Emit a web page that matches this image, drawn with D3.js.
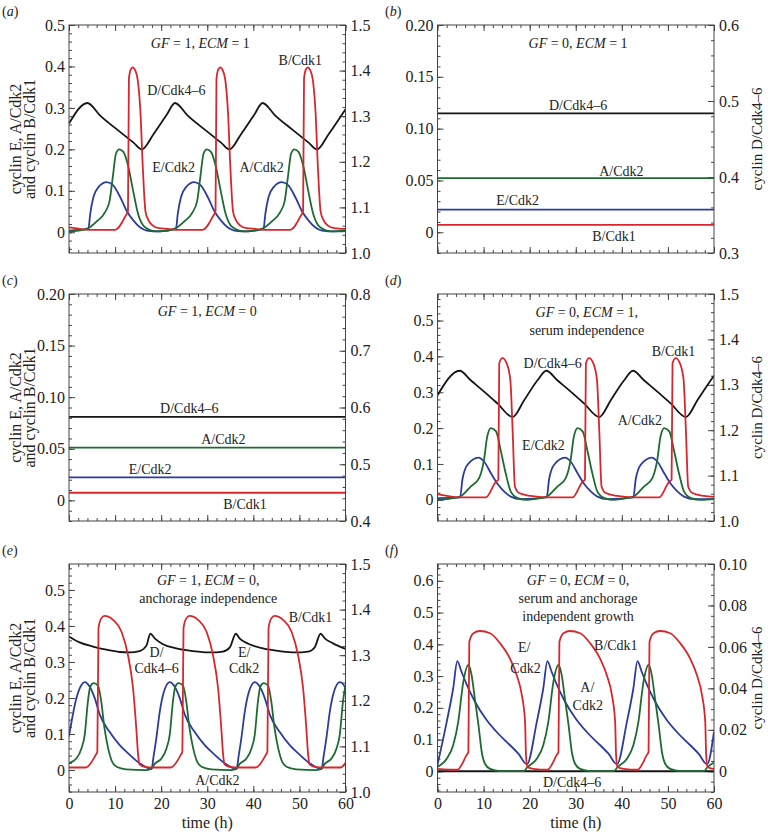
<!DOCTYPE html>
<html>
<head>
<meta charset="utf-8">
<title>Cyclin oscillations</title>
<script src="https://d3js.org/d3.v7.min.js"></script>
<style>
  body { margin: 0; background: #fff; }
  svg text { font-family: "Liberation Serif", "DejaVu Serif", serif; fill: #222; }
  .tk text { font-size: 16px; }
  .note { font-size: 14px; }
  .ttl { font-size: 16px; }
  .ttr { font-size: 15px; }
</style>
</head>
<body>
<div id="chart"></div>
<script>
// ---------- data: [time (h), level] ----------
const timeTicks = [0, 10, 20, 30, 40, 50, 60];

// (a) GF = 1, ECM = 1
const aCycE = [[0,0.004],[4.2,0.008],[4.6,0.044],[5.3,0.085],[6.4,0.109],[8.2,0.121],[9.6,0.113],[11.1,0.085],[12.5,0.052],[14.0,0.028],[15.4,0.012],[16.9,0.004],[19.5,0.002],
  [23.2,0.008],[23.6,0.044],[24.3,0.085],[25.4,0.109],[27.2,0.121],[28.6,0.113],[30.1,0.085],[31.5,0.052],[33.0,0.028],[34.4,0.012],[35.9,0.004],[38.5,0.002],
  [42.2,0.008],[42.6,0.044],[43.3,0.085],[44.4,0.109],[46.2,0.121],[47.6,0.113],[49.1,0.085],[50.5,0.052],[52.0,0.028],[53.4,0.012],[54.9,0.004],[57.5,0.002],[60,0.003]];
const aCycA = [[0,0.002],[2.0,0.004],[4.2,0.010],[6.0,0.026],[7.8,0.048],[8.8,0.075],[9.5,0.133],[10.2,0.190],[10.9,0.200],[11.8,0.194],[12.9,0.157],[13.9,0.101],[15.0,0.044],[16.5,0.012],[19.0,0.002],
  [21.0,0.004],[23.2,0.010],[25.0,0.026],[26.8,0.048],[27.8,0.075],[28.5,0.133],[29.2,0.190],[29.9,0.200],[30.8,0.194],[31.9,0.157],[32.9,0.101],[34.0,0.044],[35.5,0.012],[38.0,0.002],
  [40.0,0.004],[42.2,0.010],[44.0,0.026],[45.8,0.048],[46.8,0.075],[47.5,0.133],[48.2,0.190],[48.9,0.200],[49.8,0.194],[50.9,0.157],[51.9,0.101],[53.0,0.044],[54.5,0.012],[57.0,0.002],[60,0.004]];
const aCycB = [[0,0.012],[2.0,0.009],[4.2,0.006],[10.0,0.006],[12.2,0.038],[12.8,0.052],[13.0,0.370],[13.4,0.393],[13.8,0.398],[14.4,0.390],[15.0,0.360],[15.5,0.290],[16.0,0.160],[16.6,0.050],[17.2,0.030],[18.2,0.016],[19.5,0.010],[21.5,0.008],[23.2,0.006],
  [29.0,0.006],[31.2,0.038],[31.8,0.052],[32.0,0.370],[32.4,0.393],[32.8,0.398],[33.4,0.390],[34.0,0.360],[34.5,0.290],[35.0,0.160],[35.6,0.050],[36.2,0.030],[37.2,0.016],[38.5,0.010],[40.5,0.008],[42.2,0.006],
  [48.0,0.006],[50.2,0.038],[50.8,0.052],[51.0,0.370],[51.4,0.393],[51.8,0.398],[52.4,0.390],[53.0,0.360],[53.5,0.290],[54.0,0.160],[54.6,0.050],[55.2,0.030],[56.2,0.016],[57.5,0.010],[60,0.008]];
const aCycD = [[0,1.284],[4.0,1.329],[6.7,1.302],[10.4,1.271],[14.0,1.242],[15.8,1.227],[18.3,1.260],[21.2,1.303],[23.0,1.329],[25.7,1.302],[29.4,1.271],[33.0,1.242],[34.8,1.227],
  [37.3,1.260],[40.2,1.303],[42.0,1.329],[44.7,1.302],[48.4,1.271],[52.0,1.242],[53.8,1.227],[56.3,1.260],[59.2,1.303],[60,1.315]];

// (b) GF = 0, ECM = 1 (steady state)
const bCycE = [[0,0.0219],[60,0.0219]];
const bCycA = [[0,0.0523],[60,0.0523]];
const bCycB = [[0,0.0071],[60,0.0071]];
const bCycD = [[0,0.4836],[60,0.4836]];

// (c) GF = 1, ECM = 0 (steady state)
const cCycE = [[0,0.0223],[60,0.0223]];
const cCycA = [[0,0.0511],[60,0.0511]];
const cCycB = [[0,0.0074],[60,0.0074]];
const cCycD = [[0,0.5835],[60,0.5835]];

// (d) GF = 0, ECM = 1, serum independence
const dCycE = [[0,0.005],[4.9,0.007],[5.4,0.056],[6.5,0.098],[8.9,0.118],[10.1,0.107],[11.6,0.074],[13.0,0.045],[14.5,0.023],[15.9,0.009],[18.1,0.002],
  [23.7,0.007],[24.2,0.056],[25.3,0.098],[27.7,0.118],[28.9,0.107],[30.4,0.074],[31.8,0.045],[33.3,0.023],[34.7,0.009],[36.9,0.002],
  [42.5,0.007],[43.0,0.056],[44.1,0.098],[46.5,0.118],[47.7,0.107],[49.2,0.074],[50.6,0.045],[52.1,0.023],[53.5,0.009],[55.7,0.002],[60,0.002]];
const dCycA = [[0,0.0],[2.5,0.003],[4.9,0.009],[7.2,0.037],[9.0,0.060],[10.1,0.112],[10.8,0.177],[11.6,0.200],[12.7,0.191],[13.7,0.139],[14.8,0.074],[15.9,0.023],[17.4,0.005],[19.5,0.0],
  [21.3,0.003],[23.7,0.009],[26.0,0.037],[27.8,0.060],[28.9,0.112],[29.6,0.177],[30.4,0.200],[31.5,0.191],[32.5,0.139],[33.6,0.074],[34.7,0.023],[36.2,0.005],[38.3,0.0],
  [40.1,0.003],[42.5,0.009],[44.8,0.037],[46.6,0.060],[47.7,0.112],[48.4,0.177],[49.2,0.200],[50.3,0.191],[51.3,0.139],[52.4,0.074],[53.5,0.023],[55.0,0.005],[57.1,0.0],[60,0.002]];
const dCycB = [[0,0.016],[2.5,0.010],[4.9,0.007],[10.5,0.007],[12.7,0.051],[13.2,0.056],[13.4,0.381],[14.1,0.395],[15.0,0.381],[15.8,0.335],[16.3,0.195],[16.8,0.037],[17.7,0.019],[20.2,0.011],[23.7,0.007],
  [29.3,0.007],[31.5,0.051],[32.0,0.056],[32.2,0.381],[32.9,0.395],[33.8,0.381],[34.6,0.335],[35.1,0.195],[35.6,0.037],[36.5,0.019],[39.0,0.011],[42.5,0.007],
  [48.1,0.007],[50.3,0.051],[50.8,0.056],[51.0,0.381],[51.7,0.395],[52.6,0.381],[53.4,0.335],[53.9,0.195],[54.4,0.037],[55.3,0.019],[57.8,0.011],[60,0.008]];
const dCycD = [[0,1.277],[4.8,1.331],[7.2,1.310],[10.1,1.285],[13.0,1.259],[16.3,1.229],[18.8,1.266],[21.7,1.310],[23.6,1.331],[26.0,1.310],[28.9,1.285],[31.8,1.259],[35.1,1.229],
  [37.6,1.266],[40.5,1.310],[42.4,1.331],[44.8,1.310],[47.7,1.285],[50.6,1.259],[53.9,1.229],[56.4,1.266],[59.3,1.310],[60,1.320]];

// (e) GF = 1, ECM = 0, anchorage independence
const eCycE = [[0,0.093],[1.6,0.199],[2.7,0.236],[3.4,0.244],[4.5,0.231],[5.6,0.199],[6.7,0.153],[8.8,0.106],[11.0,0.069],[13.2,0.042],[15.3,0.019],[17.9,0.003],
  [18.4,0.042],[19.0,0.093],[19.7,0.162],[20.5,0.213],[21.85,0.244],[22.95,0.231],[24.05,0.199],[25.15,0.153],[27.25,0.106],[29.45,0.069],[31.65,0.042],[33.75,0.019],[36.35,0.003],
  [36.85,0.042],[37.45,0.093],[38.15,0.162],[38.95,0.213],[40.3,0.244],[41.4,0.231],[42.5,0.199],[43.6,0.153],[45.7,0.106],[47.9,0.069],[50.1,0.042],[52.2,0.019],[54.8,0.003],
  [55.3,0.042],[55.9,0.093],[56.6,0.162],[57.4,0.213],[58.75,0.244],[59.85,0.231],[60,0.225]];
const eCycA = [[0,0.019],[1.6,0.032],[2.7,0.060],[3.4,0.097],[4.1,0.190],[4.6,0.231],[5.35,0.241],[6.3,0.234],[7.0,0.190],[7.7,0.116],[8.5,0.060],[9.2,0.028],[10.3,0.009],[12.4,0.002],[16.8,0.0],[17.9,0.003],
  [18.45,0.015],[20.05,0.032],[21.15,0.060],[21.85,0.097],[22.55,0.190],[23.05,0.231],[23.8,0.241],[24.75,0.234],[25.45,0.190],[26.15,0.116],[26.95,0.060],[27.65,0.028],[28.75,0.009],[30.85,0.002],[35.25,0.0],[36.35,0.003],
  [36.9,0.015],[38.5,0.032],[39.6,0.060],[40.3,0.097],[41.0,0.190],[41.5,0.231],[42.25,0.241],[43.2,0.234],[43.9,0.190],[44.6,0.116],[45.4,0.060],[46.1,0.028],[47.2,0.009],[49.3,0.002],[53.7,0.0],[54.8,0.003],
  [55.35,0.015],[56.95,0.032],[58.05,0.060],[58.75,0.097],[59.45,0.190],[60,0.236]];
const eCycB = [[0,0.007],[3.6,0.007],[5.8,0.042],[6.15,0.051],[6.4,0.394],[7.0,0.421],[7.7,0.428],[9.55,0.417],[11.4,0.384],[12.8,0.319],[13.9,0.227],[14.6,0.116],[15.0,0.042],[15.3,0.016],[16.4,0.009],[18.45,0.007],
  [22.05,0.007],[24.25,0.042],[24.6,0.051],[24.85,0.394],[25.45,0.421],[26.15,0.428],[28.0,0.417],[29.85,0.384],[31.25,0.319],[32.35,0.227],[33.05,0.116],[33.45,0.042],[33.75,0.016],[34.85,0.009],[36.9,0.007],
  [40.5,0.007],[42.7,0.042],[43.05,0.051],[43.3,0.394],[43.9,0.421],[44.6,0.428],[46.45,0.417],[48.3,0.384],[49.7,0.319],[50.8,0.227],[51.5,0.116],[51.9,0.042],[52.2,0.016],[53.3,0.009],[55.35,0.007],
  [58.95,0.007],[60,0.020]];
const eCycD = [[0,1.341],[2.3,1.328],[5.2,1.319],[8.1,1.312],[11.0,1.307],[13.2,1.306],[15.3,1.309],[16.8,1.321],[17.65,1.347],[18.6,1.337],[20.4,1.324],[23.3,1.315],[26.9,1.309],
  [30.5,1.306],[33.4,1.308],[34.9,1.317],[36.2,1.347],[37.0,1.337],[38.9,1.325],[42.1,1.315],[45.7,1.309],[49.0,1.306],[51.9,1.308],[53.3,1.317],[54.6,1.347],[55.5,1.337],[57.3,1.326],[60,1.314]];

// (f) GF = 0, ECM = 0, serum and anchorage independent growth
const fCycE = [[0,0.021],[2.0,0.156],[3.4,0.261],[4.3,0.347],[5.2,0.314],[6.3,0.275],[8.1,0.220],[10.5,0.165],[13.1,0.120],[15.7,0.083],[17.6,0.055],[19.4,0.022],
  [21.55,0.156],[22.95,0.261],[23.85,0.347],[24.75,0.314],[25.85,0.275],[27.65,0.220],[30.05,0.165],[32.65,0.120],[35.25,0.083],[37.15,0.055],[38.95,0.022],
  [41.1,0.156],[42.5,0.261],[43.4,0.347],[44.3,0.314],[45.4,0.275],[47.2,0.220],[49.6,0.165],[52.2,0.120],[54.8,0.083],[56.7,0.055],[58.5,0.022],[60,0.125]];
const fCycA = [[0,0.014],[2.0,0.040],[3.4,0.082],[4.5,0.156],[5.6,0.282],[6.7,0.335],[7.4,0.303],[8.1,0.229],[8.9,0.145],[9.6,0.061],[10.3,0.024],[11.4,0.008],[13.6,0.001],[18.7,0.001],
  [19.55,0.014],[21.55,0.040],[22.95,0.082],[24.05,0.156],[25.15,0.282],[26.25,0.335],[26.95,0.303],[27.65,0.229],[28.45,0.145],[29.15,0.061],[29.85,0.024],[30.95,0.008],[33.15,0.001],[38.25,0.001],
  [39.1,0.014],[41.1,0.040],[42.5,0.082],[43.6,0.156],[44.7,0.282],[45.8,0.335],[46.5,0.303],[47.2,0.229],[48.0,0.145],[48.7,0.061],[49.4,0.024],[50.5,0.008],[52.7,0.001],[57.8,0.001],
  [58.65,0.014],[60,0.028]];
const fCycB = [[0,0.008],[4.3,0.005],[6.3,0.051],[6.7,0.061],[6.9,0.408],[7.8,0.435],[9.2,0.442],[11.4,0.435],[13.6,0.403],[15.7,0.356],[17.2,0.303],[18.3,0.240],[19.0,0.156],[19.2,0.051],[19.5,0.014],[20.8,0.008],
  [23.85,0.005],[25.85,0.051],[26.25,0.061],[26.45,0.408],[27.35,0.435],[28.75,0.442],[30.95,0.435],[33.15,0.403],[35.25,0.356],[36.75,0.303],[37.85,0.240],[38.55,0.156],[38.75,0.051],[39.05,0.014],[40.35,0.008],
  [43.4,0.005],[45.4,0.051],[45.8,0.061],[46.0,0.408],[46.9,0.435],[48.3,0.442],[50.5,0.435],[52.7,0.403],[54.8,0.356],[56.3,0.303],[57.4,0.240],[58.1,0.156],[58.3,0.051],[58.6,0.014],[59.9,0.008],[60,0.008]];
const fCycD = [[0,0.0],[60,0.0]];

// tick values and labels
const tenthTicks = [0, 0.1, 0.2, 0.3, 0.4, 0.5];
const tenthLabels = ["0", "0.1", "0.2", "0.3", "0.4", "0.5"];
const tenthTicksF = [0, 0.1, 0.2, 0.3, 0.4, 0.5, 0.6];
const tenthLabelsF = ["0", "0.1", "0.2", "0.3", "0.4", "0.5", "0.6"];
const smallTicks = [0, 0.05, 0.10, 0.15, 0.20];
const smallLabels = ["0", "0.05", "0.10", "0.15", "0.20"];
const dTicks = [1.0, 1.1, 1.2, 1.3, 1.4, 1.5];
const dLabels = ["1.0", "1.1", "1.2", "1.3", "1.4", "1.5"];
const dTicksB = [0.3, 0.4, 0.5, 0.6];
const dLabelsB = ["0.3", "0.4", "0.5", "0.6"];
const dTicksC = [0.4, 0.5, 0.6, 0.7, 0.8];
const dLabelsC = ["0.4", "0.5", "0.6", "0.7", "0.8"];
const dTicksF = [0, 0.02, 0.04, 0.06, 0.08, 0.10];
const dLabelsF = ["0", "0.02", "0.04", "0.06", "0.08", "0.10"];

// ---------- layout ----------
const width = 768, height = 834;
const cols = [[69, 345.5], [437.5, 714]];
const rows = [[25, 253], [294, 521], [564, 792]];
const colors = { E: "#2b3c9e", A: "#1d6b30", B: "#d8262c", D: "#151515" };

const panels = [
  { tag: "a", col: 0, row: 0, left: [-0.05, 0.5], right: [1.0, 1.5],
    lt: tenthTicks, ll: tenthLabels, lm: 0.02, rt: dTicks, rl: dLabels, rm: 0.02,
    E: aCycE, A: aCycA, B: aCycB, D: aCycD,
    title: { at: [28.5, 0.457], lines: ["GF = 1, ECM = 1"] },
    notes: [["D/Cdk4–6", 23.3, 0.343], ["B/Cdk1", 50.2, 0.415], ["E/Cdk2", 22.7, 0.157], ["A/Cdk2", 41.8, 0.157]] },
  { tag: "b", col: 1, row: 0, left: [-0.02, 0.2], right: [0.3, 0.6],
    lt: smallTicks, ll: smallLabels, lm: 0.01, rt: dTicksB, rl: dLabelsB, rm: 0.02,
    E: bCycE, A: bCycA, B: bCycB, D: bCycD,
    title: { at: [30.5, 0.183], lines: ["GF = 0, ECM = 1"] },
    notes: [["D/Cdk4–6", 30.5, 0.123], ["A/Cdk2", 39.9, 0.059], ["E/Cdk2", 17.4, 0.031], ["B/Cdk1", 38.3, -0.004]] },
  { tag: "c", col: 0, row: 1, left: [-0.02, 0.2], right: [0.4, 0.8],
    lt: smallTicks, ll: smallLabels, lm: 0.01, rt: dTicksC, rl: dLabelsC, rm: 0.02,
    E: cCycE, A: cCycA, B: cCycB, D: cCycD,
    title: { at: [30, 0.183], lines: ["GF = 1, ECM = 0"] },
    notes: [["D/Cdk4–6", 26.1, 0.089], ["A/Cdk2", 33.5, 0.059], ["E/Cdk2", 17.6, 0.030], ["B/Cdk1", 38.2, -0.004]] },
  { tag: "d", col: 1, row: 1, left: [-0.059, 0.574], right: [1.0, 1.5],
    lt: tenthTicks, ll: tenthLabels, lm: 0.02, rt: dTicks, rl: dLabels, rm: 0.02,
    E: dCycE, A: dCycA, B: dCycB, D: dCycD,
    title: { at: [32.4, 0.524], lines: ["GF = 0, ECM = 1,", "serum independence"] },
    notes: [["D/Cdk4–6", 25.0, 0.382], ["B/Cdk1", 51.2, 0.415], ["E/Cdk2", 23.0, 0.153], ["A/Cdk2", 43.9, 0.223]] },
  { tag: "e", col: 0, row: 2, left: [-0.061, 0.572], right: [1.0, 1.5],
    lt: tenthTicks, ll: tenthLabels, lm: 0.02, rt: dTicks, rl: dLabels, rm: 0.02,
    E: eCycE, A: eCycA, B: eCycB, D: eCycD,
    title: { at: [30.2, 0.528], lines: ["GF = 1, ECM = 0,", "anchorage independence"] },
    notes: [["B/Cdk1", 52.4, 0.425], ["D/", 19.0, 0.328], ["Cdk4–6", 19.0, 0.283], ["E/", 38.0, 0.328], ["Cdk2", 38.0, 0.283], ["A/Cdk2", 32.2, -0.028]] },
  { tag: "f", col: 1, row: 2, left: [-0.065, 0.653], right: [-0.01, 0.10],
    lt: tenthTicksF, ll: tenthLabelsF, lm: 0.02, rt: dTicksF, rl: dLabelsF, rm: 0.005,
    E: fCycE, A: fCycA, B: fCycB, D: fCycD,
    title: { at: [30.5, 0.603], lines: ["GF = 0, ECM = 0,", "serum and anchorage", "independent growth"] },
    notes: [["E/", 18.8, 0.392], ["Cdk2", 19.1, 0.325], ["B/Cdk1", 38.7, 0.398], ["A/", 32.5, 0.265], ["Cdk2", 32.6, 0.208], ["D/Cdk4–6", 29.2, -0.035]] }
];

const svg = d3.select("#chart").append("svg")
  .attr("width", width).attr("height", height);

function minorTicks(domain, step) {
  const out = [];
  const n0 = Math.ceil(domain[0] / step - 1e-6), n1 = Math.floor(domain[1] / step + 1e-6);
  for (let n = n0; n <= n1; n++) out.push(+(n * step).toFixed(4));
  return out;
}

function italicText(sel, str) {
  str.split(/(GF|ECM)/).forEach(part => {
    if (!part) return;
    sel.append("tspan").attr("font-style", /^(GF|ECM)$/.test(part) ? "italic" : null).text(part);
  });
}

function addAxis(g, axis, transform) {
  return g.append("g").attr("class", "tk").attr("transform", transform)
    .call(axis)
    .call(s => s.select(".domain").remove())
    .attr("font-family", null).attr("font-size", null)
    .attr("color", "#444");
}

panels.forEach(p => {
  const [x0, x1] = cols[p.col], [y0, y1] = rows[p.row];
  const x = d3.scaleLinear().domain([0, 60]).range([x0, x1]);
  const yL = d3.scaleLinear().domain(p.left).range([y1, y0]);
  const yR = d3.scaleLinear().domain(p.right).range([y1, y0]);
  const g = svg.append("g");

  g.append("clipPath").attr("id", "clip-" + p.tag)
    .append("rect").attr("x", x0).attr("y", y0).attr("width", x1 - x0).attr("height", y1 - y0);

  const showX = p.row === 2;
  // x axes (bottom + top), minor then major
  addAxis(g, d3.axisBottom(x).tickValues(minorTicks([0, 60], 2)).tickSize(-3).tickFormat(""), `translate(0,${y1})`);
  addAxis(g, d3.axisBottom(x).tickValues(timeTicks).tickSize(-6).tickPadding(6)
    .tickFormat(showX ? d3.format("d") : ""), `translate(0,${y1})`);
  addAxis(g, d3.axisTop(x).tickValues(minorTicks([0, 60], 2)).tickSize(-3).tickFormat(""), `translate(0,${y0})`);
  addAxis(g, d3.axisTop(x).tickValues(timeTicks).tickSize(-6).tickFormat(""), `translate(0,${y0})`);
  // left axis
  addAxis(g, d3.axisLeft(yL).tickValues(minorTicks(p.left, p.lm)).tickSize(-3).tickFormat(""), `translate(${x0},0)`);
  addAxis(g, d3.axisLeft(yL).tickValues(p.lt).tickSize(-6).tickPadding(4)
    .tickFormat((d, i) => p.ll[i]), `translate(${x0},0)`);
  // right axis
  addAxis(g, d3.axisRight(yR).tickValues(minorTicks(p.right, p.rm)).tickSize(-3).tickFormat(""), `translate(${x1},0)`);
  addAxis(g, d3.axisRight(yR).tickValues(p.rt).tickSize(-6).tickPadding(5)
    .tickFormat((d, i) => p.rl[i]), `translate(${x1},0)`);

  const lineL = d3.line().x(d => x(d[0])).y(d => yL(d[1])).curve(d3.curveMonotoneX);
  const lineR = d3.line().x(d => x(d[0])).y(d => yR(d[1])).curve(d3.curveMonotoneX);
  const curves = g.append("g").attr("clip-path", `url(#clip-${p.tag})`)
    .attr("fill", "none").attr("stroke-width", 1.8).attr("stroke-linejoin", "round");
  curves.append("path").attr("d", lineR(p.D)).attr("stroke", colors.D);
  curves.append("path").attr("d", lineL(p.E)).attr("stroke", colors.E);
  curves.append("path").attr("d", lineL(p.A)).attr("stroke", colors.A);
  curves.append("path").attr("d", lineL(p.B)).attr("stroke", colors.B);

  g.append("rect").attr("x", x0).attr("y", y0).attr("width", x1 - x0).attr("height", y1 - y0)
    .attr("fill", "none").attr("stroke", "#444").attr("stroke-width", 1);

  // condition title
  p.title.lines.forEach((ln, i) => {
    const t = g.append("text").attr("class", "note").attr("text-anchor", "middle")
      .attr("x", x(p.title.at[0])).attr("y", yL(p.title.at[1]) + i * 18).attr("dy", "0.35em");
    italicText(t, ln);
  });
  // curve labels
  p.notes.forEach(([txt, t, v]) => {
    g.append("text").attr("class", "note").attr("text-anchor", "middle")
      .attr("x", x(t)).attr("y", yL(v)).attr("dy", "0.35em").text(txt);
  });

  // panel letter
  const lt = g.append("text").attr("class", "note").attr("x", p.col === 0 ? 2 : 385).attr("y", y0 - 9);
  lt.append("tspan").text("(");
  lt.append("tspan").attr("font-style", "italic").text(p.tag);
  lt.append("tspan").text(")");

  const cy = (y0 + y1) / 2;
  if (p.col === 0) {
    ["cyclin E, A/Cdk2", "and cyclin B/Cdk1"].forEach((s, i) => {
      g.append("text").attr("class", "ttl").attr("text-anchor", "middle")
        .attr("transform", `translate(${15 + i * 14},${cy}) rotate(-90)`).attr("dy", "0.35em").text(s);
    });
  } else {
    g.append("text").attr("class", "ttr").attr("text-anchor", "middle")
      .attr("transform", `translate(757,${cy}) rotate(-90)`).attr("dy", "0.35em").text("cyclin D/Cdk4–6");
  }
  if (showX) {
    g.append("text").attr("class", "ttl").attr("text-anchor", "middle")
      .attr("x", (x0 + x1) / 2).attr("y", y1 + 30).attr("dy", "0.35em").text("time (h)");
  }
});
</script>
</body>
</html>
